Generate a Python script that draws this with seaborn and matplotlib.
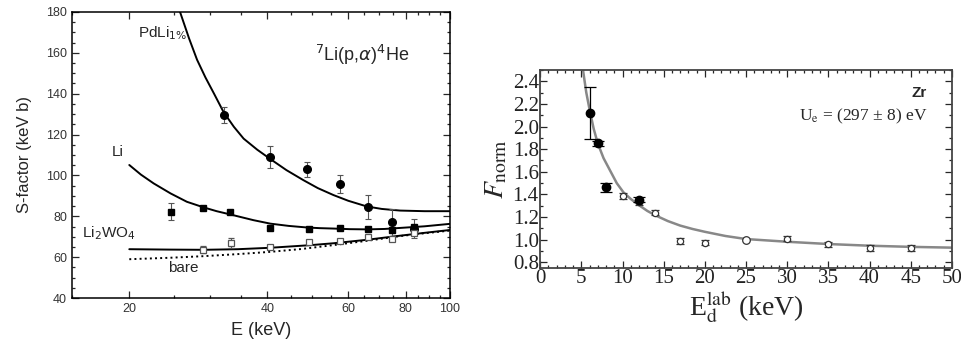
import matplotlib
matplotlib.use('Agg')
import matplotlib.pyplot as plt
import matplotlib.ticker as mticker
import seaborn as sns

# ---- left panel: 7Li(p,a)4He S-factor ----
pd_E = [32.1, 40.6, 48.9, 57.6, 66.2, 74.9, 83.5]
pd_S = [129.6, 109.0, 103.0, 95.8, 84.6, 77.0, 74.0]
pd_err = [4.1, 5.2, 3.8, 4.6, 5.8, 6.4, 4.5]

li_E = [24.6, 29.0, 33.2, 40.6, 49.2, 57.6, 66.3, 74.9, 83.5]
li_S = [82.2, 84.3, 82.0, 74.5, 74.0, 74.5, 73.6, 73.2, 75.0]
li_err = [4.1, 0, 0, 0, 0, 0, 0, 0, 0]

wo_E = [29.0, 33.3, 40.6, 49.2, 57.6, 66.3, 74.9, 83.5]
wo_S = [63.7, 67.0, 64.8, 67.2, 68.0, 70.0, 68.8, 72.0]
wo_err = [1.8, 2.3, 0.8, 0.8, 0.8, 1.0, 1.0, 1.0]

pd_fit_E = [25.8, 27.0, 28.1, 29.3, 30.6, 32.1, 33.8, 35.5, 38.0, 40.6, 44.0,
            47.9, 51.5, 55.7, 60.0, 65.9, 71.0, 77.8, 88.0, 100]
pd_fit_S = [180, 167.0, 156.6, 148.0, 140.0, 131.0, 123.8, 118.0, 112.6, 108.0, 102.6,
            97.7, 93.8, 90.4, 87.6, 84.8, 83.6, 82.8, 82.5, 82.5]
li_fit_E = [20, 21.2, 22.6, 24.6, 26.7, 29.1, 31.0, 33.2, 37.3, 40.6, 44.5, 48.9,
            52.0, 55.7, 60.5, 65.9, 72.0, 77.8, 88.0, 100]
li_fit_S = [105.1, 100.4, 96.1, 91.2, 87.1, 84.3, 82.5, 80.9, 78.1, 76.4, 75.3, 74.5,
            74.2, 74.0, 73.7, 73.6, 73.8, 74.3, 75.1, 76.3]
wo_fit_E = [20, 24.5, 29.1, 34.5, 40.6, 49.8, 55.7, 65.9, 77.8, 88.0, 100]
wo_fit_S = [63.9, 63.7, 63.6, 63.9, 64.6, 65.9, 66.8, 68.5, 70.5, 71.9, 73.3]
bare_E = [20, 24.5, 29.1, 34.5, 40.6, 47.5, 55.7, 65.9, 77.8, 88.0, 100]
bare_S = [59.0, 59.7, 60.5, 61.5, 62.6, 64.0, 65.9, 68.0, 70.3, 71.7, 73.0]

# ---- right panel: Zr, normalized enhancement ----
zr_fill_E = [6, 7, 8, 12]
zr_fill_F = [2.12, 1.85, 1.465, 1.355]
zr_fill_err = [0.23, 0.025, 0.04, 0.025]
zr_open_E = [10, 12, 14, 17, 20, 30, 35, 40, 45]
zr_open_F = [1.385, 1.33, 1.24, 0.99, 0.975, 1.01, 0.958, 0.925, 0.925]
zr_open_err = [0.025, 0.025, 0.025, 0.025, 0.025, 0.025, 0.025, 0.025, 0.025]
zr_ref_E = [25]
zr_ref_F = [1.0]
zr_fit_E = [5.2, 5.6, 6.0, 6.5, 7.0, 7.7, 8.5, 9.3, 10.1, 11.0, 12, 13, 14, 15.5, 17,
            18.5, 20, 22.5, 25, 30, 35, 40, 45, 50]
zr_fit_F = [2.5, 2.3, 2.15, 1.98, 1.85, 1.72, 1.61, 1.50, 1.42, 1.36, 1.305, 1.255,
            1.215, 1.165, 1.125, 1.095, 1.07, 1.033, 1.006, 0.982, 0.962, 0.947, 0.937, 0.93]

sns.set_theme(style='ticks')
plt.rcParams['font.family'] = ['Liberation Sans', 'DejaVu Sans']

W, H = 962, 341
fig = plt.figure(figsize=(W / 100, H / 100), dpi=100)
ax1 = fig.add_axes([0.0748, 0.126, 0.393, 0.839])
ax2 = fig.add_axes([0.5615, 0.214, 0.428, 0.581])


def px(x, y):
    # pixel position (from top-left) -> figure fraction
    return x / W, 1 - y / H


# left curves
for E, S, ls in [(pd_fit_E, pd_fit_S, '-'), (li_fit_E, li_fit_S, '-'),
                 (wo_fit_E, wo_fit_S, '-'), (bare_E, bare_S, ':')]:
    sns.lineplot(x=E, y=S, ax=ax1, color='black', lw=1.4, linestyle=ls,
                 sort=False, estimator=None)

ax1.errorbar(pd_E, pd_S, yerr=pd_err, fmt='o', color='black', ms=5.5,
             ecolor='#555555', elinewidth=0.8, capsize=2.5, capthick=0.8)
ax1.errorbar(li_E, li_S, yerr=li_err, fmt='s', color='black', ms=4.5,
             ecolor='#555555', elinewidth=0.8, capsize=2.5, capthick=0.8)
ax1.errorbar(wo_E, wo_S, yerr=wo_err, fmt='s', color='#555555', mfc='white',
             ms=4.5, mew=0.9, ecolor='#555555', elinewidth=0.8, capsize=2.5, capthick=0.8)

ax1.set_xscale('log')
ax1.set_xlim(15, 100)
ax1.set_ylim(40, 180)
ax1.xaxis.set_major_locator(mticker.FixedLocator([20, 40, 60, 80, 100]))
ax1.xaxis.set_major_formatter(mticker.FormatStrFormatter('%d'))
ax1.xaxis.set_minor_locator(mticker.FixedLocator(list(range(15, 100, 5))))
ax1.xaxis.set_minor_formatter(mticker.NullFormatter())
ax1.yaxis.set_major_locator(mticker.MultipleLocator(20))
ax1.yaxis.set_minor_locator(mticker.MultipleLocator(5))
ax1.tick_params(which='both', direction='in', top=True, right=True,
                labelsize=9, labelcolor='#333333', width=0.9)
ax1.tick_params(which='major', length=5)
ax1.tick_params(which='minor', length=2.5)
for sp in ax1.spines.values():
    sp.set_linewidth(1.1)
    sp.set_color('black')
ax1.set_xlabel('E (keV)', fontsize=13, labelpad=5)
ax1.set_ylabel('S-factor (keV b)', fontsize=12, labelpad=10)

fig.text(*px(138, 33), 'PdLi$_{1\\%}$', fontsize=11, va='center',
         math_fontfamily='dejavusans')
fig.text(*px(315, 55), '$^{7}$Li(p,$\\alpha$)$^{4}$He', fontsize=13, va='center',
         math_fontfamily='dejavusans')
fig.text(*px(112, 152), 'Li', fontsize=11, va='center')
fig.text(*px(82, 233), 'Li$_{2}$WO$_{4}$', fontsize=11, va='center',
         math_fontfamily='dejavusans')
fig.text(*px(168, 268), 'bare', fontsize=11, va='center')

# right panel
sns.lineplot(x=zr_fit_E, y=zr_fit_F, ax=ax2, color='#888888', lw=1.8,
             sort=False, estimator=None)
ax2.errorbar(zr_open_E, zr_open_F, yerr=zr_open_err, fmt='o', color='#333333',
             mfc='white', ms=4.5, mew=0.9, elinewidth=0.9, capsize=3, capthick=0.9)
sns.scatterplot(x=zr_ref_E, y=zr_ref_F, ax=ax2, marker='o', s=30,
                facecolor='white', edgecolor='#333333', linewidth=0.9, zorder=3)
ax2.errorbar(zr_fill_E, zr_fill_F, yerr=zr_fill_err, fmt='o', color='black',
             ms=6, elinewidth=0.9, capsize=4, capthick=0.9)

ax2.set_xlim(0, 50)
ax2.set_ylim(0.75, 2.5)
ax2.xaxis.set_major_locator(mticker.MultipleLocator(5))
ax2.xaxis.set_minor_locator(mticker.MultipleLocator(1))
ax2.yaxis.set_major_locator(mticker.FixedLocator([0.8, 1.0, 1.2, 1.4, 1.6, 1.8, 2.0, 2.2, 2.4]))
ax2.yaxis.set_major_formatter(mticker.FormatStrFormatter('%.1f'))
ax2.yaxis.set_minor_locator(mticker.MultipleLocator(0.1))
ax2.tick_params(which='both', direction='in', top=True, right=True, width=0.9,
                labelsize=15, labelcolor='#222222', pad=1)
ax2.tick_params(which='major', length=5)
ax2.tick_params(which='minor', length=2.5)
for lab in ax2.get_xticklabels() + ax2.get_yticklabels():
    lab.set_family('Liberation Serif')
for sp in ax2.spines.values():
    sp.set_linewidth(1.3)
    sp.set_color('#444444')

ax2.set_xlabel('E$_{\\rm d}^{\\rm lab}$ (keV)', fontsize=20, family='Liberation Serif',
               math_fontfamily='stix', labelpad=1)
ax2.set_ylabel('$F_{\\rm norm}$', fontsize=20, math_fontfamily='stix', labelpad=2)
ax2.text(0.94, 0.884, 'Zr', transform=ax2.transAxes, ha='right', va='center',
         fontsize=11, fontweight='bold')
ax2.text(0.94, 0.763, 'U$_{\\rm e}$ = (297 ± 8) eV', transform=ax2.transAxes,
         ha='right', va='center', fontsize=12.5, family='Liberation Serif',
         math_fontfamily='stix')

fig.savefig('out.png', dpi=100)
